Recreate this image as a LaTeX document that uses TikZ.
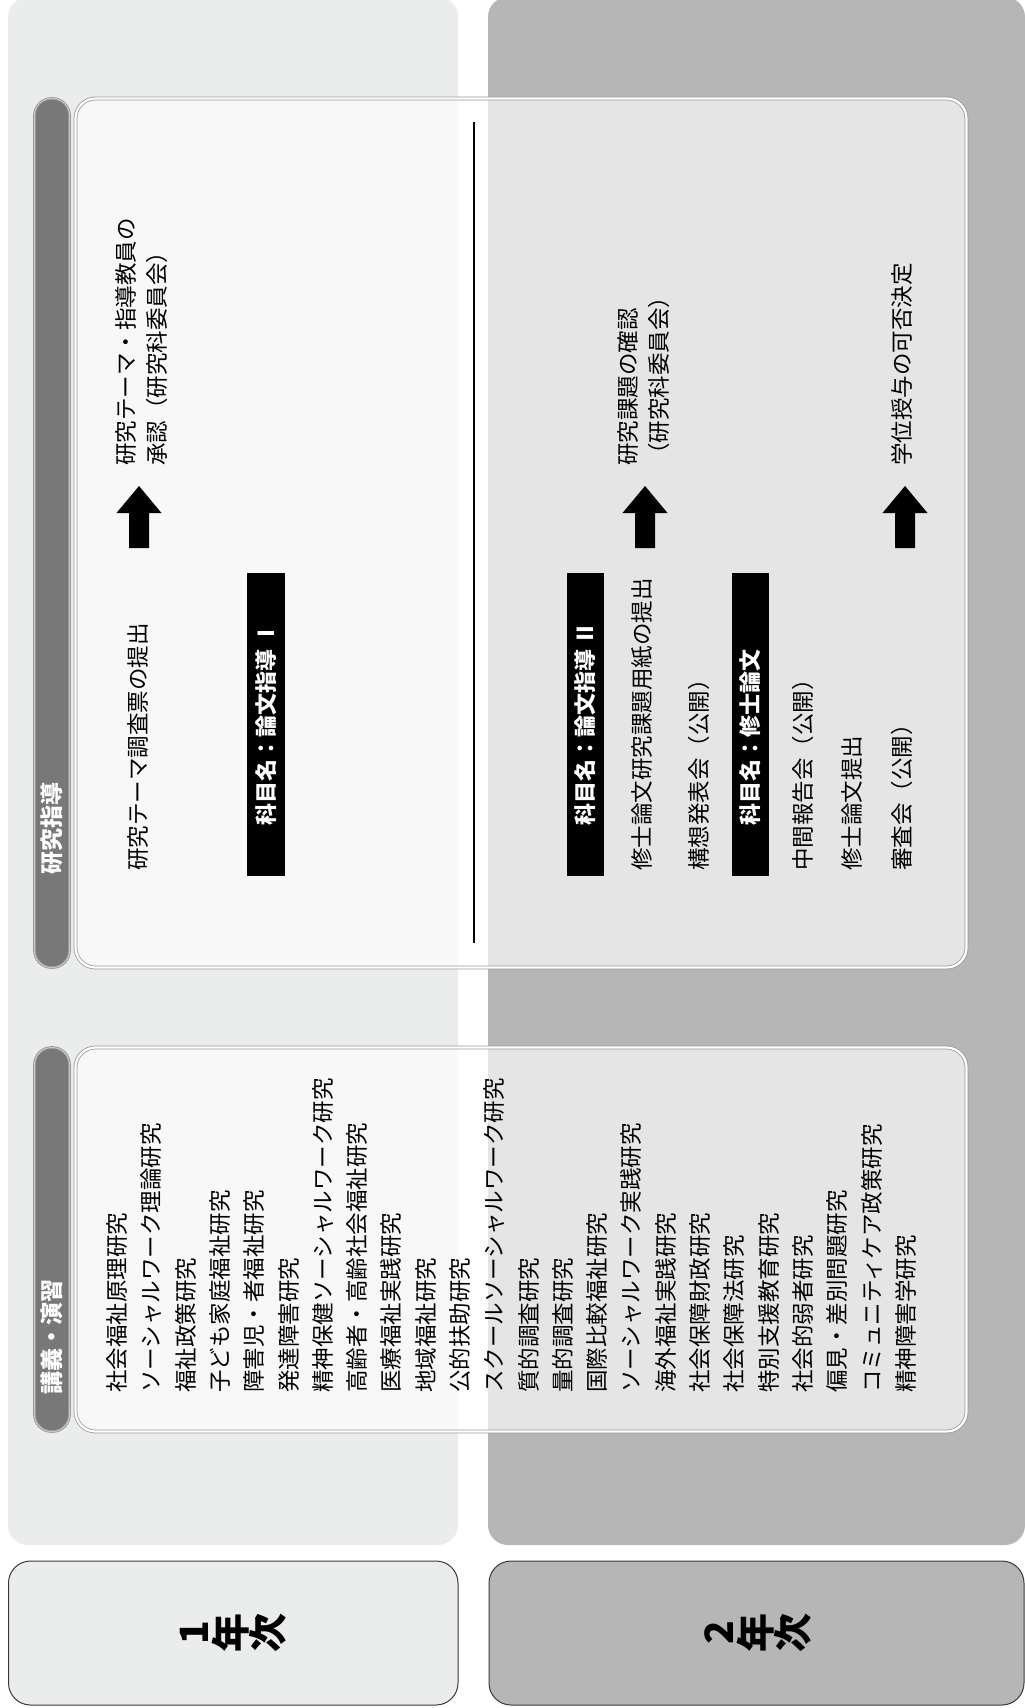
\documentclass[tikz,border=0pt]{standalone}
\usepackage{fontspec}
\setmainfont{Noto Sans CJK JP}
\definecolor{panelA}{HTML}{EBEDEC}
\definecolor{panelB}{HTML}{B6B6B6}
\definecolor{tabgray}{HTML}{787878}
\definecolor{boxline}{HTML}{9A9A9A}
\definecolor{tabline}{HTML}{959595}
\definecolor{tabinner}{HTML}{C8C8C8}
\definecolor{yearline}{HTML}{3A3A3A}
\begin{document}
\begin{tikzpicture}[x=1pt,y=-1pt,
  lst/.style={rotate=90, anchor=west, inner sep=0pt, text=black,
    font=\fontsize{22.5}{31}\selectfont, align=left},
  tabtext/.style={rotate=90, anchor=west, inner sep=0pt, text=white,
    font=\fontsize{23}{26}\bfseries\selectfont},
  subjbox/.style={fill=black, draw=none},
  subjtext/.style={rotate=90, anchor=west, inner sep=0pt, text=white,
    font=\fontsize{22}{26}\bfseries\selectfont},
  yeartext/.style={rotate=90, align=center, inner sep=0pt, text=black,
    font=\fontsize{39}{37}\bfseries\selectfont},
  contentbox/.style={fill=white, fill opacity=0.65, draw=boxline,
    double=white, double distance=2.2pt, line width=0.8pt, rounded corners=20},
  tabbox/.style={fill=tabgray, draw=tabline, double=tabinner,
    double distance=1pt, line width=0.8pt, rounded corners=17},
  yearbox/.style={draw=yearline, line width=1pt, rounded corners=22},
  blockarrow/.pic={\fill[black] (-10,0) -- (-10,-35) -- (-22.5,-35) -- (0,-62)
    -- (22.5,-35) -- (10,-35) -- (10,0) -- cycle;}
]
\useasboundingbox (0,0) rectangle (1025,1708);
\fill[white] (0,0) rectangle (1025,1708);

% background panels
\fill[panelA, rounded corners=20] (8,-3) rectangle (458,1545);
\fill[panelB, rounded corners=20] (488,-3) rectangle (1025,1545);

% year boxes
\draw[yearbox, fill=panelA] (8.5,1561) rectangle (458,1705);
\draw[yearbox, fill=panelB] (489,1561) rectangle (1024,1705);
\node[yeartext] (y1) at (233,1633) {1\\年\\次};
\node[yeartext] (y2) at (758,1633) {2\\年\\次};

% section: research guidance
\draw[contentbox] (75.5,98.5) rectangle (966.5,967.5);
\draw[tabbox] (34.5,98.5) rectangle (69.5,967.5);
\node[tabtext] (tab1) at (52,875) {研究指導};

% section: lectures
\draw[contentbox] (75.5,1047.5) rectangle (966.5,1431.5);
\draw[tabbox] (34.5,1047.5) rectangle (69.5,1431.5);
\node[tabtext] (tab2) at (52,1395) {講義・演習};

% separator
\draw[black, line width=1.2pt] (474,122) -- (474,943);

% year 1 guidance
\node[lst] (t1) at (138,871) {研究テーマ調査票の提出};
\fill[subjbox] (247,573) rectangle (285,876);
\node[subjtext] (s1) at (266,826) {科目名：論文指導 Ⅰ};
\pic at (139,548) {blockarrow};
\node[lst] (r1) at (141.5,466) {研究テーマ・指導教員の\\承認（研究科委員会）};

% year 2 guidance
\fill[subjbox] (567,573) rectangle (604,876);
\node[subjtext] (s2) at (585.5,826) {科目名：論文指導 Ⅱ};
\node[lst] (t2) at (642,871) {修士論文研究課題用紙の提出};
\node[lst] (t3) at (699,871) {構想発表会（公開）};
\fill[subjbox] (732,573) rectangle (769,876);
\node[subjtext] (s3) at (750.5,826) {科目名：修士論文};
\node[lst] (t4) at (803,871) {中間報告会（公開）};
\node[lst] (t5) at (852,871) {修士論文提出};
\node[lst] (t6) at (902,871) {審査会（公開）};
\pic at (645,548) {blockarrow};
\node[lst] (r2) at (644,466) {研究課題の確認\\（研究科委員会）};
\pic at (905,548) {blockarrow};
\node[lst] (r3) at (902,466) {学位授与の可否決定};

% course list
\foreach \t [count=\i from 0] in {社会福祉原理研究, ソーシャルワーク理論研究,
  福祉政策研究, 子ども家庭福祉研究, 障害児・者福祉研究, 発達障害研究,
  精神保健ソーシャルワーク研究, 高齢者・高齢社会福祉研究, 医療福祉実践研究,
  地域福祉研究, 公的扶助研究, スクールソーシャルワーク研究, 質的調査研究,
  量的調査研究, 国際比較福祉研究, ソーシャルワーク実践研究, 海外福祉実践研究,
  社会保障財政研究, 社会保障法研究, 特別支援教育研究, 社会的弱者研究,
  偏見・差別問題研究, コミュニティケア政策研究, 精神障害学研究}
  \node[lst] (item\i) at ({117+34.3*\i},1393) {\t};
\end{tikzpicture}
\end{document}
